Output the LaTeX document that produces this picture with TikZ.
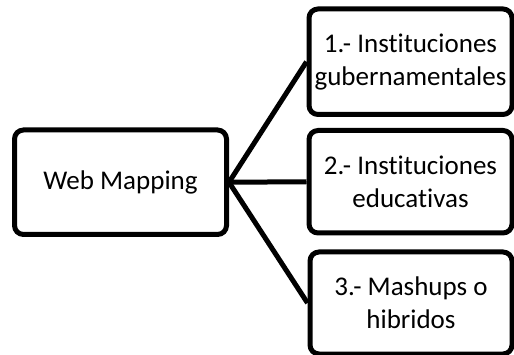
\documentclass[tikz,border=0pt]{standalone}
\usepackage{fontspec}
\setmainfont{Carlito}[Ligatures={NoCommon}]
\begin{document}
\begin{tikzpicture}[x=1pt,y=-1pt,
  box/.style={draw=black, line width=5pt, rounded corners=9pt, fill=white,
    align=center, font=\fontsize{27}{33}\selectfont, inner sep=0pt},
  link/.style={draw=black, line width=5pt}]
  \useasboundingbox (0,0) rectangle (514,355);
  % root box
  \node[box, minimum width=212pt, minimum height=104.5pt] (root) at (120.5,182.25) {Web Mapping};
  % branch boxes
  \node[box, minimum width=203pt, minimum height=105.5pt] (b1) at (410.5,61.75) {1.- Instituciones\\gubernamentales};
  \node[box, minimum width=203pt, minimum height=102.5pt] (b2) at (410.5,181.75) {2.- Instituciones\\educativas};
  \node[box, minimum width=202pt, minimum height=102pt] (b3) at (411,303) {3.- Mashups o\\hibridos};
  % connectors
  \draw[link] (root.east) -- (b1.west);
  \draw[link] (root.east) -- (b2.west);
  \draw[link] (root.east) -- (b3.west);
\end{tikzpicture}
\end{document}
